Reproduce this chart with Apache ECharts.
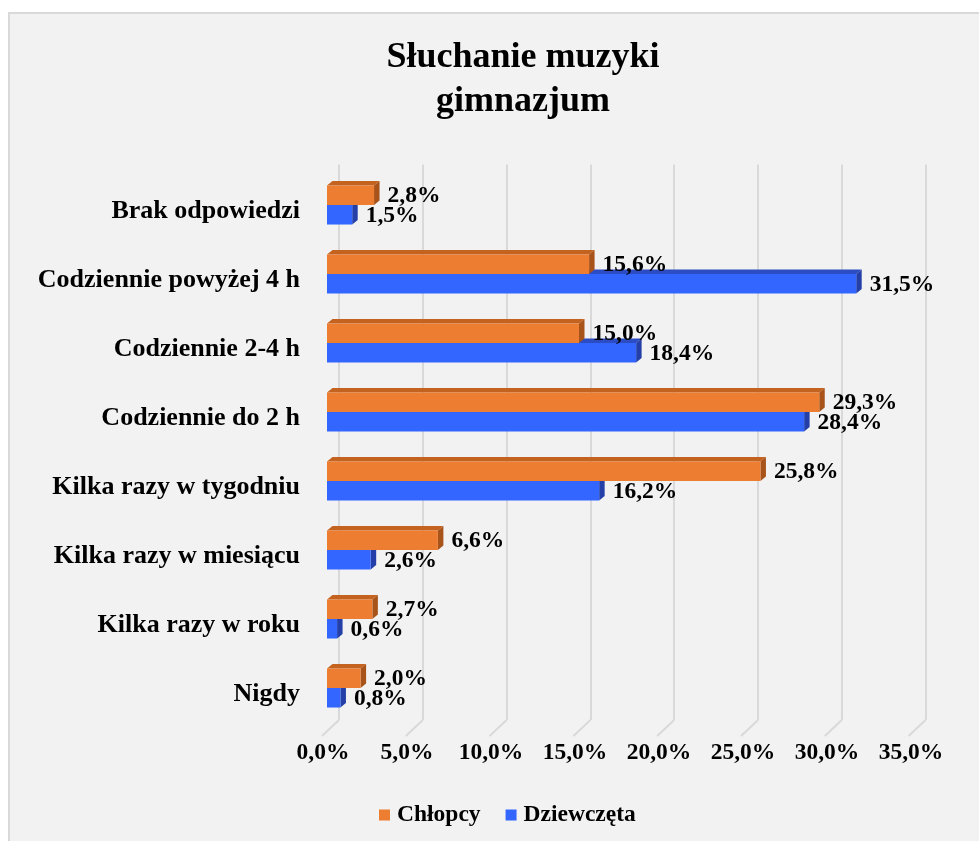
<!DOCTYPE html>
<html>
<head>
<meta charset="utf-8">
<script src="https://cdn.jsdelivr.net/npm/echarts@6/dist/echarts.min.js"></script>
<style>
html,body{margin:0;padding:0;background:#ffffff;}
#chart{width:979px;height:841px;}
</style>
</head>
<body>
<div id="chart"></div>
<script>
// ---- data ----
const categories = [
  'Brak odpowiedzi',
  'Codziennie powyżej 4 h',
  'Codziennie 2-4 h',
  'Codziennie do 2 h',
  'Kilka razy w tygodniu',
  'Kilka razy w miesiącu',
  'Kilka razy w roku',
  'Nigdy'
];
const boys  = [2.8, 15.6, 15.0, 29.3, 25.8, 6.6, 2.7, 2.0];   // Chłopcy
const girls = [1.5, 31.5, 18.4, 28.4, 16.2, 2.6, 0.6, 0.8];   // Dziewczęta
const xTicks = [0, 5, 10, 15, 20, 25, 30, 35];
const seriesNames = ['Chłopcy', 'Dziewczęta'];
const titleText = 'Słuchanie muzyki\ngimnazjum';

// ---- styles ----
const FONT = '"Liberation Serif", "Times New Roman", serif';
const colors = {
  boys:  {front: '#ED7D31', top: '#C4621F', side: '#A8531A'},
  girls: {front: '#3366FF', top: '#2B4CC2', side: '#2440A8'}
};
const fmt = v => v.toFixed(1).replace('.', ',') + '%';

const DX = 5.5, DY = 4.5;

function barRenderer(which, col) {
  return function (params, api) {
    const cat = api.value(0);
    const val = api.value(1);
    const base = api.coord([0, cat]);
    const end = api.coord([val, cat]);
    const band = api.size([0, 1])[1];
    const h = band * 0.283;
    const cy = base[1];
    const y0 = which === 0 ? cy - h : cy;
    const y1 = y0 + h;
    const x0 = base[0], x1 = end[0];
    return {
      type: 'group',
      children: [
        {type: 'polygon', shape: {points: [[x0, y0], [x0 + DX, y0 - DY], [x1 + DX, y0 - DY], [x1, y0]]},
         style: {fill: col.top}},
        {type: 'polygon', shape: {points: [[x1, y0], [x1 + DX, y0 - DY], [x1 + DX, y1 - DY], [x1, y1]]},
         style: {fill: col.side}},
        {type: 'rect', shape: {x: x0, y: y0, width: x1 - x0, height: h},
         style: {fill: col.front}},
        {type: 'text', x: x1 + DX + 8, y: (y0 + y1) / 2 + 1,
         style: {text: fmt(val), fill: '#000', font: 'bold 23.5px ' + FONT, align: 'left', verticalAlign: 'middle'}}
      ]
    };
  };
}

const chart = echarts.init(document.getElementById('chart'), null, {renderer: 'canvas'});

const option = {
  backgroundColor: '#ffffff',
  animation: false,
  graphic: [{
    type: 'rect', z: -10, silent: true,
    shape: {x: 9, y: 13, width: 1000, height: 900},
    style: {fill: '#F2F2F2', stroke: '#D9D9D9', lineWidth: 2}
  }],
  title: {
    text: titleText,
    left: 518, top: 31,
    textAlign: 'center',
    textStyle: {fontFamily: FONT, fontWeight: 'bold', fontSize: 36, lineHeight: 44, color: '#000'}
  },
  legend: {
    data: seriesNames,
    left: 374, top: 798,
    itemWidth: 11, itemHeight: 11, itemGap: 25,
    icon: 'rect',
    textStyle: {fontFamily: FONT, fontWeight: 'bold', fontSize: 23.5, color: '#000', padding: [0, 0, 0, 2]}
  },
  grid: [
    {left: 327, right: 64, top: 170.5, bottom: 118.5, containLabel: false},
    {left: 339, right: 53.4, top: 164.5, bottom: 121, containLabel: false}
  ],
  xAxis: [
    {type: 'value', gridIndex: 0, min: xTicks[0], max: xTicks[xTicks.length - 1], interval: 5,
     axisLine: {show: false}, axisTick: {show: false}, splitLine: {show: false},
     axisLabel: {formatter: v => fmt(v), fontFamily: FONT, fontWeight: 'bold', fontSize: 23.5, color: '#000',
                 margin: 18, padding: [0, 8, 0, 0]}},
    {type: 'value', gridIndex: 1, min: xTicks[0], max: xTicks[xTicks.length - 1], interval: 5,
     axisLine: {show: false}, axisTick: {show: false}, axisLabel: {show: false},
     splitLine: {show: true, lineStyle: {color: '#D9D9D9', width: 2}}}
  ],
  yAxis: [
    {type: 'category', gridIndex: 0, data: categories, inverse: true,
     axisLine: {show: false}, axisTick: {show: false}, splitLine: {show: false},
     axisLabel: {margin: 27, formatter: v => '{a|' + v + '}',
                 rich: {a: {fontFamily: FONT, fontWeight: 'bold', fontSize: 26, color: '#000', padding: [12, 0, 0, 0]}}}},
    {type: 'value', gridIndex: 1, min: 0, max: 1, show: false}
  ],
  series: [
    {
      type: 'custom', name: 'floor', xAxisIndex: 1, yAxisIndex: 1, silent: true, z: 1,
      data: xTicks.map(v => [v, 0]),
      renderItem: function (params, api) {
        const p = api.coord([api.value(0), 0]);
        return {type: 'line', shape: {x1: p[0], y1: p[1], x2: p[0] - 17, y2: p[1] + 16},
                style: {stroke: '#D9D9D9', lineWidth: 2}};
      }
    },
    {
      type: 'custom', name: seriesNames[1], xAxisIndex: 0, yAxisIndex: 0, z: 2,
      itemStyle: {color: colors.girls.front},
      encode: {x: 1, y: 0},
      data: girls.map((v, i) => [i, v]),
      renderItem: barRenderer(1, colors.girls)
    },
    {
      type: 'custom', name: seriesNames[0], xAxisIndex: 0, yAxisIndex: 0, z: 3,
      itemStyle: {color: colors.boys.front},
      encode: {x: 1, y: 0},
      data: boys.map((v, i) => [i, v]),
      renderItem: barRenderer(0, colors.boys)
    }
  ]
};
chart.setOption(option);
</script>
</body>
</html>
